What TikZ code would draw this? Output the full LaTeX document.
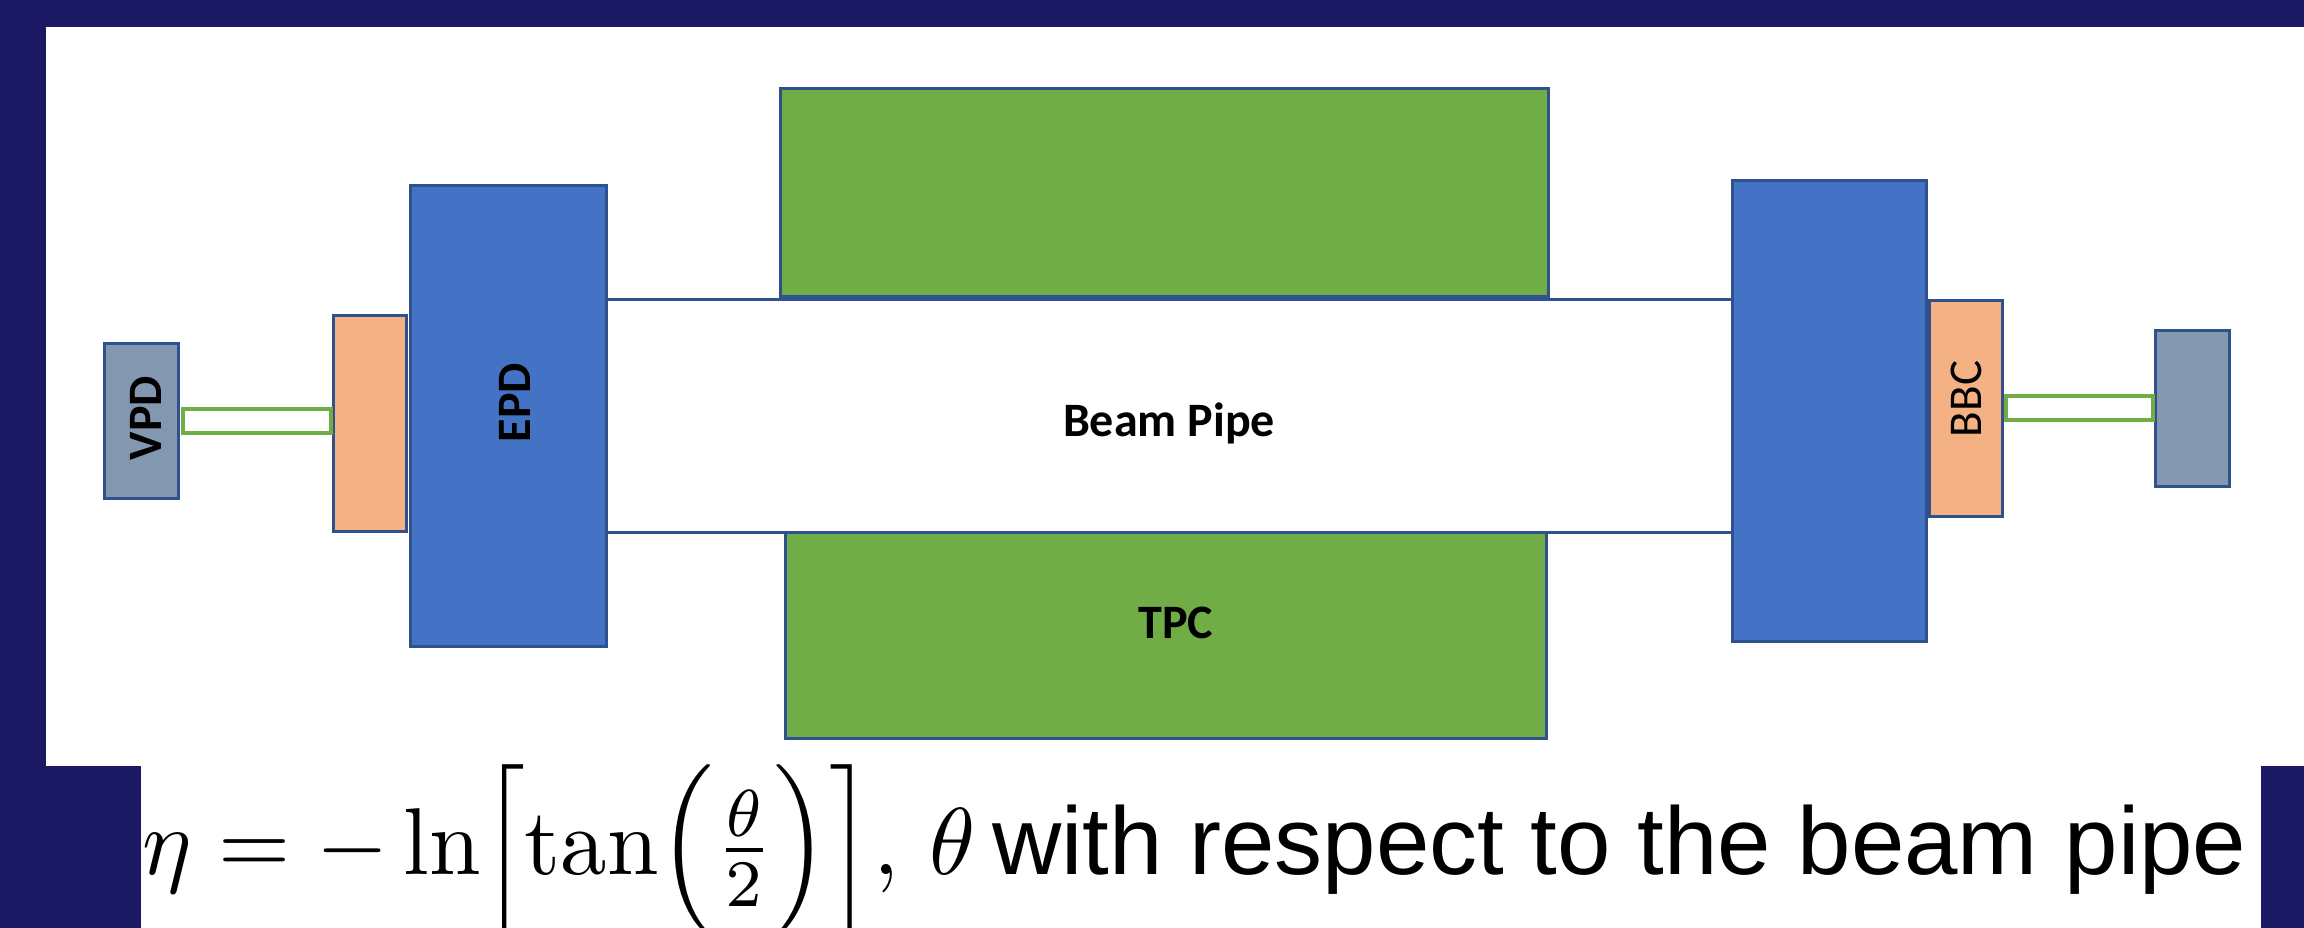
\documentclass[tikz,border=0pt]{standalone}
\usepackage{fontspec}
\newfontfamily\calibri{Carlito}
\newfontfamily\arial{Liberation Sans}

\definecolor{navy}{RGB}{27,25,100}
\definecolor{edgeblue}{HTML}{2F528F}
\definecolor{epdblue}{HTML}{4472C4}
\definecolor{tpcgreen}{HTML}{70AD47}
\definecolor{bbcorange}{HTML}{F4B183}
\definecolor{vpdgrey}{HTML}{8497B0}

\tikzset{
  part/.style={draw=edgeblue, line width=3.5pt, inner sep=0pt, outer sep=0pt},
  epdbox/.style={part, fill=epdblue},
  tpcbox/.style={part, fill=tpcgreen},
  bbcbox/.style={part, fill=bbcorange},
  vpdbox/.style={part, fill=vpdgrey},
  cable/.style={draw=tpcgreen, fill=white, line width=4pt, inner sep=0pt, outer sep=0pt},
  pipewall/.style={draw=edgeblue, line width=3pt},
  tag/.style={inner sep=0pt, font=\fontsize{48}{56}\calibri\bfseries},
  thintag/.style={inner sep=0pt, font=\fontsize{47}{56}\calibri},
}

\begin{document}
\begin{tikzpicture}[x=1pt, y=-1pt]
\useasboundingbox (0,0) rectangle (2304,928);
% slide frame
\fill[navy] (0,0) rectangle (2304,928);
\fill[white] (46,27) rectangle (2304,766);
\fill[white] (141,765) rectangle (2261,928);

% endcap detectors
\node[epdbox, minimum width=196pt, minimum height=461pt] (epd) at (508.5,416) {};
\node[epdbox, minimum width=194pt, minimum height=461pt] (epdR) at (1829.5,411) {};

% beam pipe walls
\coordinate (topwall) at (0,299);
\coordinate (botwall) at (0,532);
\draw[pipewall] (epd.east |- topwall) -- (epdR.west |- topwall);
\draw[pipewall] (epd.east |- botwall) -- (epdR.west |- botwall);

% time projection chamber
\node[tpcbox, minimum width=768pt, minimum height=208pt] (tpcU) at (1164.5,192.5) {};
\node[tpcbox, minimum width=761pt, minimum height=206pt] (tpcD) at (1166,635.5) {};

% west side
\node[vpdbox, minimum width=74pt, minimum height=155pt] (vpd) at (141.5,421) {};
\node[bbcbox, minimum width=73pt, minimum height=216pt] (bbcL) at (370,423.5) {};
\node[cable, minimum width=148pt, minimum height=24pt] (cableL) at (257,421) {};
\node[epdbox, minimum width=196pt, minimum height=461pt] at (epd) {};

% east side
\node[bbcbox, minimum width=73pt, minimum height=216pt] (bbc) at (1966,408.5) {};
\node[vpdbox, minimum width=74pt, minimum height=156pt] (vpdR) at (2192.5,408.5) {};
\node[cable, minimum width=147pt, minimum height=24pt] (cableR) at (2079.5,408) {};

% labels
\node[tag, rotate=90] (vpdtext) at (146,418) {VPD};
\node[tag, rotate=90] (epdtext) at (515,402.5) {EPD};
\node[thintag, rotate=90] (bbctext) at (1966.5,399) {BBC};
\node[tag] (pipetext) at (1169,423) {Beam Pipe};
\node[tag] (tpctext) at (1176,623) {TPC};

% pseudorapidity definition
\node[anchor=base west, inner sep=0pt, xscale=9.28, yscale=9.5] (eta) at (141,874)
  {$\eta = -\ln\Bigl[\tan\Bigl(\frac{\theta}{2}\Bigr)\Bigr],\,\theta$};
\node[anchor=base west, inner sep=0pt, font=\fontsize{96}{110}\arial] (rest) at (992,874)
  {with respect to the beam pipe};
\end{tikzpicture}
\end{document}
